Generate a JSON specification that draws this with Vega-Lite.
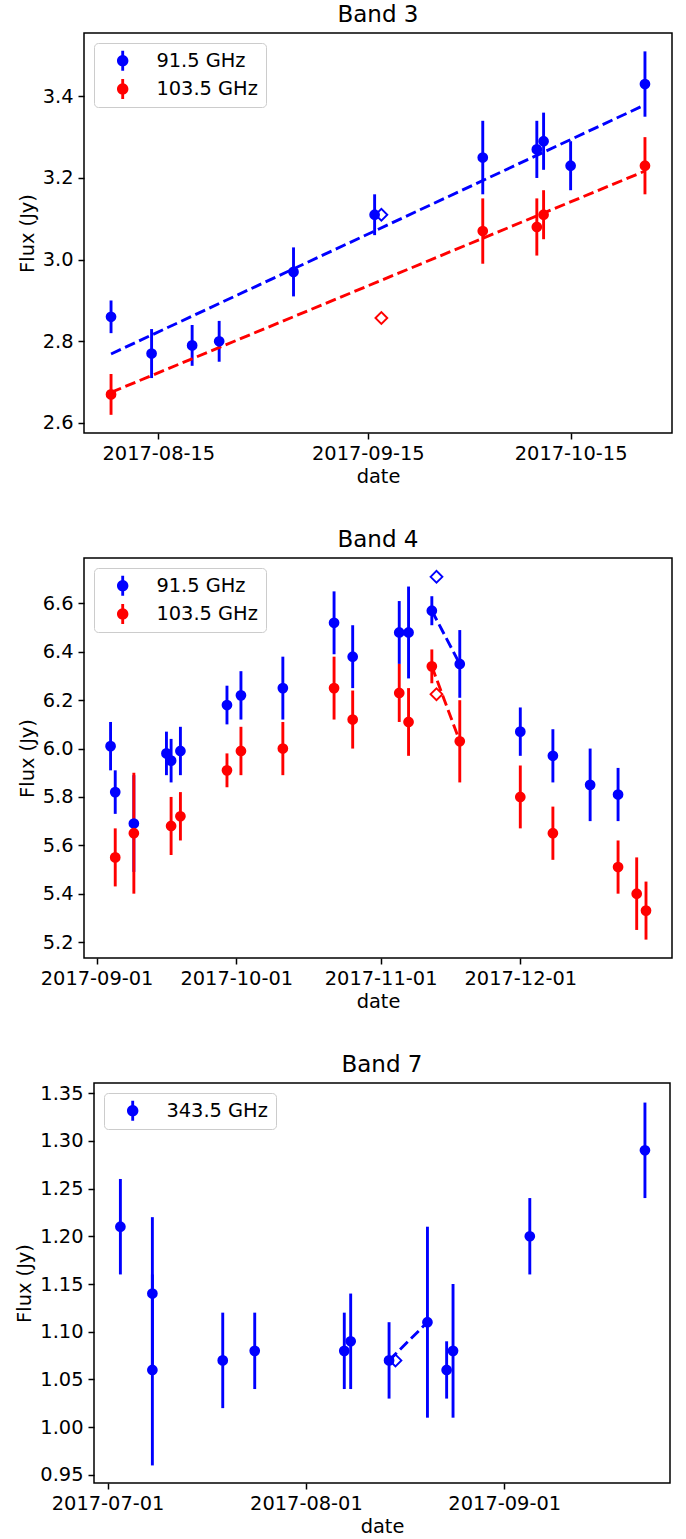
{
  "$schema": "https://vega.github.io/schema/vega-lite/v6.json",
  "background": "white",
  "padding": {"left": 14, "top": 3, "right": 5, "bottom": 0},
  "columns": 1,
  "spacing": 41,
  "resolve": {"scale": {"color": "independent"}, "legend": {"color": "independent"}},
  "config": {
    "font": "DejaVu Sans",
    "view": {"stroke": "black", "strokeWidth": 1.5},
    "axis": {
      "domain": false, "grid": false,
      "tickColor": "black", "tickWidth": 1.5, "tickSize": 6,
      "labelFont": "DejaVu Sans", "labelFontSize": 19.4, "labelColor": "black", "labelPadding": 5,
      "titleFont": "DejaVu Sans", "titleFontSize": 19.4, "titleFontWeight": "normal", "titleColor": "black", "titlePadding": 5,
      "labelOverlap": false, "labelFlush": false
    },
    "title": {"font": "DejaVu Sans", "fontSize": 23, "fontWeight": "normal", "color": "black", "anchor": "middle"},
    "legend": {
      "orient": "top-left", "offset": 10, "padding": 8,
      "fillColor": "rgba(255,255,255,0.8)", "strokeColor": "#cccccc", "cornerRadius": 4,
      "labelFont": "DejaVu Sans", "labelFontSize": 19.4, "labelColor": "black", "labelLimit": 300,
      "symbolType": "M -0.25 -1.75 L 0.25 -1.75 L 0.25 1.75 L -0.25 1.75 Z M 1 0 A 1 1 0 1 1 -1 0 A 1 1 0 1 1 1 0 Z",
      "symbolSize": 130, "symbolStrokeWidth": 0, "symbolOffset": 11, "labelOffset": 24, "rowPadding": 7.3
    }
  },
  "datasets": {
    "b3": [
      {"date": "2017-08-08", "series": "91.5 GHz", "kind": "obs", "flux": 2.86, "lo": 2.82, "hi": 2.90},
      {"date": "2017-08-14", "series": "91.5 GHz", "kind": "obs", "flux": 2.77, "lo": 2.71, "hi": 2.83},
      {"date": "2017-08-20", "series": "91.5 GHz", "kind": "obs", "flux": 2.79, "lo": 2.74, "hi": 2.84},
      {"date": "2017-08-24", "series": "91.5 GHz", "kind": "obs", "flux": 2.80, "lo": 2.75, "hi": 2.85},
      {"date": "2017-09-04", "series": "91.5 GHz", "kind": "obs", "flux": 2.97, "lo": 2.91, "hi": 3.03},
      {"date": "2017-09-16", "series": "91.5 GHz", "kind": "obs", "flux": 3.11, "lo": 3.06, "hi": 3.16},
      {"date": "2017-10-02", "series": "91.5 GHz", "kind": "obs", "flux": 3.25, "lo": 3.16, "hi": 3.34},
      {"date": "2017-10-10", "series": "91.5 GHz", "kind": "obs", "flux": 3.27, "lo": 3.20, "hi": 3.34},
      {"date": "2017-10-11", "series": "91.5 GHz", "kind": "obs", "flux": 3.29, "lo": 3.22, "hi": 3.36},
      {"date": "2017-10-15", "series": "91.5 GHz", "kind": "obs", "flux": 3.23, "lo": 3.17, "hi": 3.29},
      {"date": "2017-10-26", "series": "91.5 GHz", "kind": "obs", "flux": 3.43, "lo": 3.35, "hi": 3.51},
      {"date": "2017-08-08", "series": "103.5 GHz", "kind": "obs", "flux": 2.67, "lo": 2.62, "hi": 2.72},
      {"date": "2017-10-02", "series": "103.5 GHz", "kind": "obs", "flux": 3.07, "lo": 2.99, "hi": 3.15},
      {"date": "2017-10-10", "series": "103.5 GHz", "kind": "obs", "flux": 3.08, "lo": 3.01, "hi": 3.15},
      {"date": "2017-10-11", "series": "103.5 GHz", "kind": "obs", "flux": 3.11, "lo": 3.05, "hi": 3.17},
      {"date": "2017-10-26", "series": "103.5 GHz", "kind": "obs", "flux": 3.23, "lo": 3.16, "hi": 3.30},
      {"date": "2017-09-17", "series": "91.5 GHz", "kind": "model", "flux": 3.11},
      {"date": "2017-09-17", "series": "103.5 GHz", "kind": "model", "flux": 2.857},
      {"date": "2017-08-08", "series": "91.5 GHz", "kind": "fit", "flux": 2.769},
      {"date": "2017-10-26", "series": "91.5 GHz", "kind": "fit", "flux": 3.379},
      {"date": "2017-08-08", "series": "103.5 GHz", "kind": "fit", "flux": 2.675},
      {"date": "2017-10-26", "series": "103.5 GHz", "kind": "fit", "flux": 3.217}
    ],
    "b4": [
      {"date": "2017-09-04", "series": "91.5 GHz", "kind": "obs", "flux": 6.01, "lo": 5.91, "hi": 6.11},
      {"date": "2017-09-05", "series": "91.5 GHz", "kind": "obs", "flux": 5.82, "lo": 5.73, "hi": 5.91},
      {"date": "2017-09-09", "series": "91.5 GHz", "kind": "obs", "flux": 5.69, "lo": 5.49, "hi": 5.89},
      {"date": "2017-09-16", "series": "91.5 GHz", "kind": "obs", "flux": 5.98, "lo": 5.89, "hi": 6.07},
      {"date": "2017-09-17", "series": "91.5 GHz", "kind": "obs", "flux": 5.95, "lo": 5.86, "hi": 6.04},
      {"date": "2017-09-19", "series": "91.5 GHz", "kind": "obs", "flux": 5.99, "lo": 5.89, "hi": 6.09},
      {"date": "2017-09-29", "series": "91.5 GHz", "kind": "obs", "flux": 6.18, "lo": 6.10, "hi": 6.26},
      {"date": "2017-10-02", "series": "91.5 GHz", "kind": "obs", "flux": 6.22, "lo": 6.12, "hi": 6.32},
      {"date": "2017-10-11", "series": "91.5 GHz", "kind": "obs", "flux": 6.25, "lo": 6.12, "hi": 6.38},
      {"date": "2017-10-22", "series": "91.5 GHz", "kind": "obs", "flux": 6.52, "lo": 6.39, "hi": 6.65},
      {"date": "2017-10-26", "series": "91.5 GHz", "kind": "obs", "flux": 6.38, "lo": 6.25, "hi": 6.51},
      {"date": "2017-11-05", "series": "91.5 GHz", "kind": "obs", "flux": 6.48, "lo": 6.35, "hi": 6.61},
      {"date": "2017-11-07", "series": "91.5 GHz", "kind": "obs", "flux": 6.48, "lo": 6.29, "hi": 6.67},
      {"date": "2017-11-12", "series": "91.5 GHz", "kind": "obs", "flux": 6.57, "lo": 6.51, "hi": 6.63},
      {"date": "2017-11-18", "series": "91.5 GHz", "kind": "obs", "flux": 6.35, "lo": 6.21, "hi": 6.49},
      {"date": "2017-12-01", "series": "91.5 GHz", "kind": "obs", "flux": 6.07, "lo": 5.97, "hi": 6.17},
      {"date": "2017-12-08", "series": "91.5 GHz", "kind": "obs", "flux": 5.97, "lo": 5.86, "hi": 6.08},
      {"date": "2017-12-16", "series": "91.5 GHz", "kind": "obs", "flux": 5.85, "lo": 5.70, "hi": 6.00},
      {"date": "2017-12-22", "series": "91.5 GHz", "kind": "obs", "flux": 5.81, "lo": 5.70, "hi": 5.92},
      {"date": "2017-09-05", "series": "103.5 GHz", "kind": "obs", "flux": 5.55, "lo": 5.43, "hi": 5.67},
      {"date": "2017-09-09", "series": "103.5 GHz", "kind": "obs", "flux": 5.65, "lo": 5.40, "hi": 5.90},
      {"date": "2017-09-17", "series": "103.5 GHz", "kind": "obs", "flux": 5.68, "lo": 5.56, "hi": 5.80},
      {"date": "2017-09-19", "series": "103.5 GHz", "kind": "obs", "flux": 5.72, "lo": 5.62, "hi": 5.82},
      {"date": "2017-09-29", "series": "103.5 GHz", "kind": "obs", "flux": 5.91, "lo": 5.84, "hi": 5.98},
      {"date": "2017-10-02", "series": "103.5 GHz", "kind": "obs", "flux": 5.99, "lo": 5.89, "hi": 6.09},
      {"date": "2017-10-11", "series": "103.5 GHz", "kind": "obs", "flux": 6.00, "lo": 5.89, "hi": 6.11},
      {"date": "2017-10-22", "series": "103.5 GHz", "kind": "obs", "flux": 6.25, "lo": 6.12, "hi": 6.38},
      {"date": "2017-10-26", "series": "103.5 GHz", "kind": "obs", "flux": 6.12, "lo": 6.00, "hi": 6.24},
      {"date": "2017-11-05", "series": "103.5 GHz", "kind": "obs", "flux": 6.23, "lo": 6.11, "hi": 6.35},
      {"date": "2017-11-07", "series": "103.5 GHz", "kind": "obs", "flux": 6.11, "lo": 5.97, "hi": 6.25},
      {"date": "2017-11-12", "series": "103.5 GHz", "kind": "obs", "flux": 6.34, "lo": 6.27, "hi": 6.41},
      {"date": "2017-11-18", "series": "103.5 GHz", "kind": "obs", "flux": 6.03, "lo": 5.86, "hi": 6.20},
      {"date": "2017-12-01", "series": "103.5 GHz", "kind": "obs", "flux": 5.80, "lo": 5.67, "hi": 5.93},
      {"date": "2017-12-08", "series": "103.5 GHz", "kind": "obs", "flux": 5.65, "lo": 5.54, "hi": 5.76},
      {"date": "2017-12-22", "series": "103.5 GHz", "kind": "obs", "flux": 5.51, "lo": 5.40, "hi": 5.62},
      {"date": "2017-12-26", "series": "103.5 GHz", "kind": "obs", "flux": 5.40, "lo": 5.25, "hi": 5.55},
      {"date": "2017-12-28", "series": "103.5 GHz", "kind": "obs", "flux": 5.33, "lo": 5.21, "hi": 5.45},
      {"date": "2017-11-13", "series": "91.5 GHz", "kind": "model", "flux": 6.71},
      {"date": "2017-11-13", "series": "103.5 GHz", "kind": "model", "flux": 6.225},
      {"date": "2017-11-12", "series": "91.5 GHz", "kind": "fit", "flux": 6.57},
      {"date": "2017-11-18", "series": "91.5 GHz", "kind": "fit", "flux": 6.35},
      {"date": "2017-11-12", "series": "103.5 GHz", "kind": "fit", "flux": 6.34},
      {"date": "2017-11-18", "series": "103.5 GHz", "kind": "fit", "flux": 6.03}
    ],
    "b7": [
      {"date": "2017-07-03", "series": "343.5 GHz", "kind": "obs", "flux": 1.21, "lo": 1.16, "hi": 1.26},
      {"date": "2017-07-08", "series": "343.5 GHz", "kind": "obs", "flux": 1.14, "lo": 1.06, "hi": 1.22},
      {"date": "2017-07-08", "series": "343.5 GHz", "kind": "obs", "flux": 1.06, "lo": 0.96, "hi": 1.16},
      {"date": "2017-07-19", "series": "343.5 GHz", "kind": "obs", "flux": 1.07, "lo": 1.02, "hi": 1.12},
      {"date": "2017-07-24", "series": "343.5 GHz", "kind": "obs", "flux": 1.08, "lo": 1.04, "hi": 1.12},
      {"date": "2017-08-07", "series": "343.5 GHz", "kind": "obs", "flux": 1.08, "lo": 1.04, "hi": 1.12},
      {"date": "2017-08-08", "series": "343.5 GHz", "kind": "obs", "flux": 1.09, "lo": 1.04, "hi": 1.14},
      {"date": "2017-08-14", "series": "343.5 GHz", "kind": "obs", "flux": 1.07, "lo": 1.03, "hi": 1.11},
      {"date": "2017-08-20", "series": "343.5 GHz", "kind": "obs", "flux": 1.11, "lo": 1.01, "hi": 1.21},
      {"date": "2017-08-23", "series": "343.5 GHz", "kind": "obs", "flux": 1.06, "lo": 1.03, "hi": 1.09},
      {"date": "2017-08-24", "series": "343.5 GHz", "kind": "obs", "flux": 1.08, "lo": 1.01, "hi": 1.15},
      {"date": "2017-09-05", "series": "343.5 GHz", "kind": "obs", "flux": 1.20, "lo": 1.16, "hi": 1.24},
      {"date": "2017-09-23", "series": "343.5 GHz", "kind": "obs", "flux": 1.29, "lo": 1.24, "hi": 1.34},
      {"date": "2017-08-15", "series": "343.5 GHz", "kind": "model", "flux": 1.07},
      {"date": "2017-08-14", "series": "343.5 GHz", "kind": "fit", "flux": 1.07},
      {"date": "2017-08-20", "series": "343.5 GHz", "kind": "fit", "flux": 1.11}
    ]
  },
  "concat": [
    {
      "width": 588, "height": 400,
      "title": {"text": "Band 3", "fontSize": 23, "fontWeight": "normal", "offset": -12, "baseline": "alphabetic"},
      "data": {"name": "b3"},
      "resolve": {"legend": {"color": "independent"}},
      "encoding": {
        "x": {"field": "date", "type": "temporal", "title": "date",
          "scale": {"type": "utc", "domain": [{"year": 2017, "month": 8, "date": 4, "utc": true}, {"year": 2017, "month": 10, "date": 30, "utc": true}]},
          "axis": {"format": "%Y-%m-%d", "values": [{"year": 2017, "month": 8, "date": 15, "utc": true}, {"year": 2017, "month": 9, "date": 15, "utc": true}, {"year": 2017, "month": 10, "date": 15, "utc": true}]}},
        "color": {"field": "series", "type": "nominal", "scale": {"domain": ["91.5 GHz", "103.5 GHz"], "range": ["#0000ff", "#ff0000"]}, "legend": null}
      },
      "layer": [
        {"transform": [{"filter": "datum.kind === 'obs'"}],
         "mark": {"type": "rule", "strokeWidth": 2.9},
         "encoding": {"y": {"field": "lo", "type": "quantitative", "title": "Flux (Jy)", "scale": {"domain": [2.5755, 3.555], "nice": false, "zero": false}, "axis": {"values": [2.6, 2.8, 3.0, 3.2, 3.4], "format": ".1f"}}, "y2": {"field": "hi"}}},
        {"transform": [{"filter": "datum.kind === 'fit'"}],
         "mark": {"type": "line", "strokeWidth": 2.9, "strokeDash": [10.8, 4.7]},
         "encoding": {"y": {"field": "flux", "type": "quantitative", "title": "Flux (Jy)"}}},
        {"transform": [{"filter": "datum.kind === 'model'"}],
         "mark": {"type": "point", "shape": "diamond", "filled": false, "size": 140, "strokeWidth": 1.9, "opacity": 1},
         "encoding": {"y": {"field": "flux", "type": "quantitative", "title": "Flux (Jy)"}}},
        {"transform": [{"filter": "datum.kind === 'obs'"}],
         "mark": {"type": "point", "shape": "circle", "filled": true, "size": 115, "opacity": 1},
         "encoding": {"y": {"field": "flux", "type": "quantitative", "title": "Flux (Jy)"},
           "color": {"field": "series", "type": "nominal", "scale": {"domain": ["91.5 GHz", "103.5 GHz"], "range": ["#0000ff", "#ff0000"]}, "legend": {"title": null}}}}
      ]
    },
    {
      "width": 588, "height": 400,
      "title": {"text": "Band 4", "fontSize": 23, "fontWeight": "normal", "offset": -12, "baseline": "alphabetic"},
      "data": {"name": "b4"},
      "resolve": {"legend": {"color": "independent"}},
      "encoding": {
        "x": {"field": "date", "type": "temporal", "title": "date",
          "scale": {"type": "utc", "domain": [{"year": 2017, "month": 8, "date": 29, "hours": 7, "utc": true}, {"year": 2018, "month": 1, "date": 2, "hours": 14, "utc": true}]},
          "axis": {"format": "%Y-%m-%d", "values": [{"year": 2017, "month": 9, "date": 1, "utc": true}, {"year": 2017, "month": 10, "date": 1, "utc": true}, {"year": 2017, "month": 11, "date": 1, "utc": true}, {"year": 2017, "month": 12, "date": 1, "utc": true}]}},
        "color": {"field": "series", "type": "nominal", "scale": {"domain": ["91.5 GHz", "103.5 GHz"], "range": ["#0000ff", "#ff0000"]}, "legend": null}
      },
      "layer": [
        {"transform": [{"filter": "datum.kind === 'obs'"}],
         "mark": {"type": "rule", "strokeWidth": 2.9},
         "encoding": {"y": {"field": "lo", "type": "quantitative", "title": "Flux (Jy)", "scale": {"domain": [5.134, 6.788], "nice": false, "zero": false}, "axis": {"values": [5.2, 5.4, 5.6, 5.8, 6.0, 6.2, 6.4, 6.6], "format": ".1f"}}, "y2": {"field": "hi"}}},
        {"transform": [{"filter": "datum.kind === 'fit'"}],
         "mark": {"type": "line", "strokeWidth": 2.9, "strokeDash": [10.8, 4.7]},
         "encoding": {"y": {"field": "flux", "type": "quantitative", "title": "Flux (Jy)"}}},
        {"transform": [{"filter": "datum.kind === 'model'"}],
         "mark": {"type": "point", "shape": "diamond", "filled": false, "size": 140, "strokeWidth": 1.9, "opacity": 1},
         "encoding": {"y": {"field": "flux", "type": "quantitative", "title": "Flux (Jy)"}}},
        {"transform": [{"filter": "datum.kind === 'obs'"}],
         "mark": {"type": "point", "shape": "circle", "filled": true, "size": 115, "opacity": 1},
         "encoding": {"y": {"field": "flux", "type": "quantitative", "title": "Flux (Jy)"},
           "color": {"field": "series", "type": "nominal", "scale": {"domain": ["91.5 GHz", "103.5 GHz"], "range": ["#0000ff", "#ff0000"]}, "legend": {"title": null}}}}
      ]
    },
    {
      "spacing": -71,
      "hconcat": [
        {
          "width": 1, "height": 400,
          "view": {"stroke": null},
          "data": {"values": []},
          "mark": {"type": "point"}
        },
        {
          "width": 576, "height": 400,
          "title": {"text": "Band 7", "fontSize": 23, "fontWeight": "normal", "offset": -12, "baseline": "alphabetic"},
          "data": {"name": "b7"},
          "resolve": {"legend": {"color": "independent"}},
          "encoding": {
            "x": {"field": "date", "type": "temporal", "title": "date",
              "scale": {"type": "utc", "domain": [{"year": 2017, "month": 6, "date": 28, "hours": 21, "utc": true}, {"year": 2017, "month": 9, "date": 26, "hours": 22, "utc": true}]},
              "axis": {"format": "%Y-%m-%d", "values": [{"year": 2017, "month": 7, "date": 1, "utc": true}, {"year": 2017, "month": 8, "date": 1, "utc": true}, {"year": 2017, "month": 9, "date": 1, "utc": true}]}},
            "color": {"field": "series", "type": "nominal", "scale": {"domain": ["343.5 GHz"], "range": ["#0000ff"]}, "legend": null}
          },
          "layer": [
            {"transform": [{"filter": "datum.kind === 'obs'"}],
             "mark": {"type": "rule", "strokeWidth": 2.9},
             "encoding": {"y": {"field": "lo", "type": "quantitative", "title": "Flux (Jy)", "scale": {"domain": [0.9416, 1.3605], "nice": false, "zero": false}, "axis": {"values": [0.95, 1.0, 1.05, 1.1, 1.15, 1.2, 1.25, 1.3, 1.35], "format": ".2f"}}, "y2": {"field": "hi"}}},
            {"transform": [{"filter": "datum.kind === 'fit'"}],
             "mark": {"type": "line", "strokeWidth": 2.9, "strokeDash": [10.8, 4.7]},
             "encoding": {"y": {"field": "flux", "type": "quantitative", "title": "Flux (Jy)"}}},
            {"transform": [{"filter": "datum.kind === 'model'"}],
             "mark": {"type": "point", "shape": "diamond", "filled": false, "size": 140, "strokeWidth": 1.9, "opacity": 1},
             "encoding": {"y": {"field": "flux", "type": "quantitative", "title": "Flux (Jy)"}}},
            {"transform": [{"filter": "datum.kind === 'obs'"}],
             "mark": {"type": "point", "shape": "circle", "filled": true, "size": 115, "opacity": 1},
             "encoding": {"y": {"field": "flux", "type": "quantitative", "title": "Flux (Jy)"},
               "color": {"field": "series", "type": "nominal", "scale": {"domain": ["343.5 GHz"], "range": ["#0000ff"]}, "legend": {"title": null}}}}
          ]
        }
      ]
    }
  ]
}
